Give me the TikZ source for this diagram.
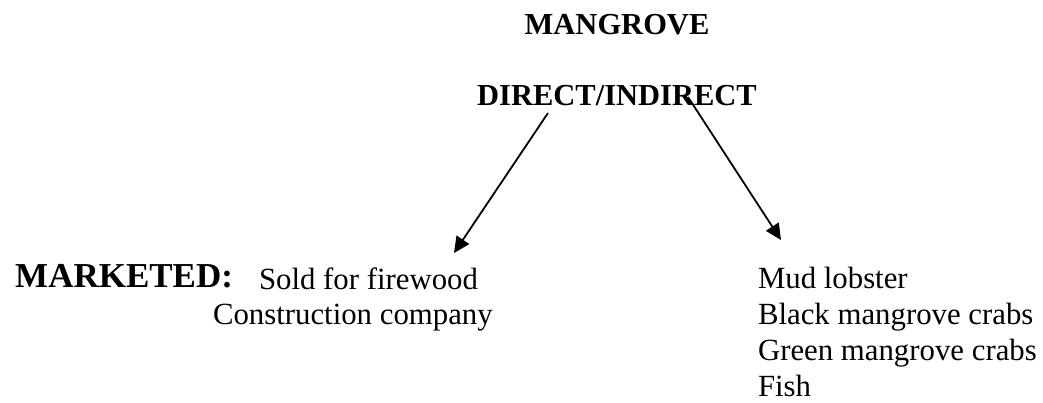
\documentclass[tikz,border=0pt]{standalone}
\usepackage{fontspec}
\setmainfont{Liberation Serif}
\usetikzlibrary{arrows.meta}
\begin{document}
\begin{tikzpicture}[x=1pt,y=-1pt,
  every node/.style={inner sep=0pt,outer sep=0pt},
  head/.style={font=\fontsize{30.5}{36}\selectfont\bfseries},
  bighead/.style={font=\fontsize{35}{40}\selectfont\bfseries},
  item/.style={font=\fontsize{30.8}{36}\selectfont,anchor=base west},
  link/.style={line width=1.8pt,-{Triangle[length=16pt,width=15pt]}}]
\useasboundingbox (0,0) rectangle (1043,402);

% title and the split heading
\node[head,anchor=base] (title) at (617,34) {MANGROVE};
\node[head,anchor=base] (split) at (617,105) {DIRECT/INDIRECT};

% left branch: marketed uses
\node[bighead,anchor=base east] (mk) at (233,287) {MARKETED:};
\node[item] (sold) at (259,289) {Sold for firewood};
\node[item] (cons) at (213,324) {Construction company};

% right branch: harvested species
\node[item] (mud) at (758,288) {Mud lobster};
\node[item] (black) at (758,324) {Black mangrove crabs};
\node[item] (green) at (758,360) {Green mangrove crabs};
\node[item] (fish) at (758,396) {Fish};

% arrow ends
\coordinate (ls) at (548,113);
\coordinate (le) at (454,253);
\coordinate (rs) at (688,97);
\coordinate (re) at (781,240);

\draw[link] (ls) -- (le);
\draw[link] (rs) -- (re);
\end{tikzpicture}
\end{document}
